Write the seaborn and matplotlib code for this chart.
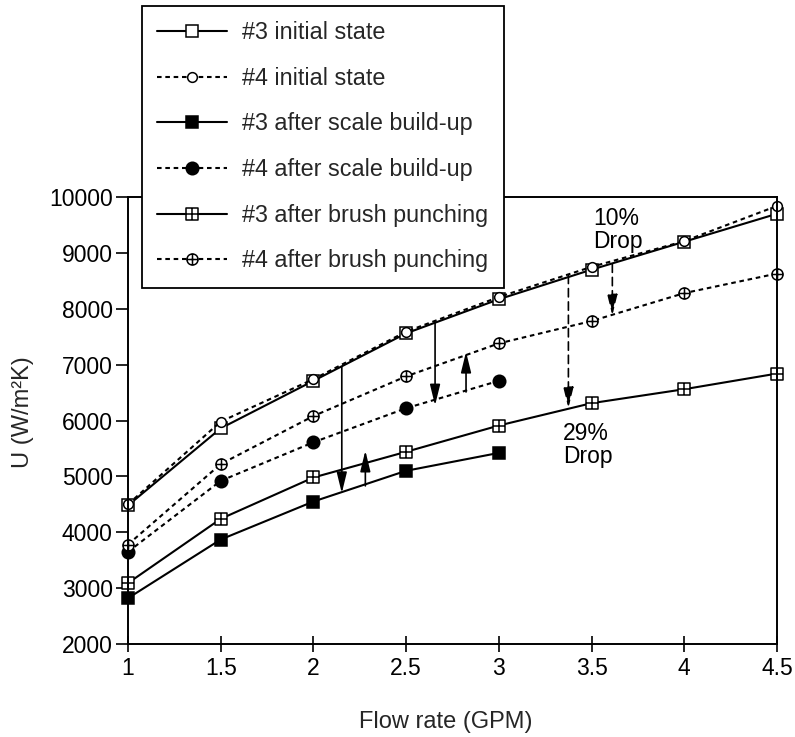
import matplotlib
matplotlib.use("Agg")
import matplotlib.pyplot as plt
from matplotlib.path import Path
import numpy as np
import pandas as pd
import seaborn as sns

# Flow rate (GPM) and overall heat-transfer coefficient U (W/m²K)
flow = [1, 1.5, 2, 2.5, 3, 3.5, 4, 4.5]
flow_scaled = [1, 1.5, 2, 2.5, 3]

u3_initial = [4480, 5860, 6710, 7560, 8170, 8700, 9200, 9700]
u4_initial = [4500, 5980, 6740, 7590, 8210, 8750, 9210, 9840]
u3_scale = [2820, 3870, 4550, 5100, 5420]
u4_scale = [3650, 4920, 5610, 6220, 6710]
u3_brush = [3090, 4240, 4980, 5440, 5910, 6310, 6560, 6840]
u4_brush = [3780, 5220, 6080, 6790, 7380, 7780, 8280, 8630]

labels = ["#3 initial state", "#4 initial state",
          "#3 after scale build-up", "#4 after scale build-up",
          "#3 after brush punching", "#4 after brush punching"]

xticks = [1, 1.5, 2, 2.5, 3, 3.5, 4, 4.5]
xticklabels = ["1", "1.5", "2", "2.5", "3", "3.5", "4", "4.5"]
yticks = [2000, 3000, 4000, 5000, 6000, 7000, 8000, 9000, 10000]

# arrows: (x, y_from, y_to, dashed)
arrows = [(2.153, 6960, 4700, False),
          (2.28, 4830, 5460, False),
          (2.656, 7760, 6270, False),
          (2.823, 6510, 7230, False),
          (3.375, 8600, 6220, True),
          (3.612, 8800, 7880, True)]

notes = [(3.51, 9410, "10%\nDrop"), (3.346, 5560, "29%\nDrop")]

sns.set_theme(style="white")
plt.rcParams["font.family"] = ["Liberation Sans", "DejaVu Sans"]
FS = 16.5

# square with a cross inside, circle with a cross inside
sq_cross = Path.make_compound_path(
    Path([[-1, -1], [1, -1], [1, 1], [-1, 1], [-1, -1]],
         [Path.MOVETO, Path.LINETO, Path.LINETO, Path.LINETO, Path.CLOSEPOLY]),
    Path([[-1, 0], [1, 0]], [Path.MOVETO, Path.LINETO]),
    Path([[0, -1], [0, 1]], [Path.MOVETO, Path.LINETO]))
circ_cross = Path.make_compound_path(
    Path.unit_circle(),
    Path([[-1, 0], [1, 0]], [Path.MOVETO, Path.LINETO]),
    Path([[0, -1], [0, 1]], [Path.MOVETO, Path.LINETO]))

dotted = (0, (2.2, 1.8))

series = [
    (flow, u3_initial, "s", 8.5, "white", "-"),
    (flow, u4_initial, "o", 7.0, "white", dotted),
    (flow_scaled, u3_scale, "s", 8.0, "black", "-"),
    (flow_scaled, u4_scale, "o", 9.0, "black", dotted),
    (flow, u3_brush, sq_cross, 8.0, "white", "-"),
    (flow, u4_brush, circ_cross, 8.0, "white", dotted),
]

fig = plt.figure(figsize=(7.95, 7.37), dpi=100)
ax = fig.add_axes([128 / 795, 1 - 644 / 737, 649 / 795, 447 / 737])

for (xs, ys, mk, ms, fc, ls), lab in zip(series, labels):
    df = pd.DataFrame({"flow": xs, "U": ys})
    sns.lineplot(data=df, x="flow", y="U", ax=ax, color="black",
                 marker=mk, markersize=ms, markerfacecolor=fc,
                 markeredgecolor="black", markeredgewidth=1.1,
                 linestyle=ls, linewidth=1.5, label=lab, clip_on=False,
                 legend=False)

for x, y0, y1, dashed in arrows:
    ax.annotate("", xy=(x, y1), xytext=(x, y0),
                arrowprops=dict(arrowstyle="-|>,head_length=0.9,head_width=0.22",
                                mutation_scale=14, color="black", lw=1.2,
                                linestyle=(0, (5, 3)) if dashed else "-",
                                shrinkA=0, shrinkB=0))

for x, y, t in notes:
    ax.text(x, y, t, ha="left", va="center", fontsize=FS, linespacing=1.0,
            color="black")

ax.set_xlim(1, 4.5)
ax.set_ylim(2000, 10000)
ax.set_xticks(xticks)
ax.set_xticklabels(xticklabels)
ax.set_yticks(yticks)
ax.tick_params(axis="y", direction="out", length=9, width=1.2,
               labelsize=FS, pad=2, colors="black", left=True)
ax.tick_params(axis="x", direction="inout", length=11, width=1.2,
               labelsize=FS, pad=4, colors="black", bottom=True)
for s in ax.spines.values():
    s.set_visible(True)
    s.set_color("black")
    s.set_linewidth(1.4)

ax.set_xlabel("")
ax.set_ylabel("")
fig.text(446 / 795, 1 - 722 / 737, "Flow rate (GPM)", ha="center",
         va="center", fontsize=17)
fig.text(23 / 795, 1 - 412 / 737, "U (W/m²K)", ha="center", va="center",
         rotation=90, fontsize=17)

leg = ax.legend(loc="upper left", bbox_to_anchor=(142 / 795, 1 - 6 / 737),
                bbox_transform=fig.transFigure, borderaxespad=0,
                fontsize=16.8, frameon=True, fancybox=False, framealpha=1,
                handlelength=3.0, handletextpad=0.65, labelspacing=0.97,
                borderpad=0.65, numpoints=1)
leg.get_frame().set_edgecolor("black")
leg.get_frame().set_linewidth(1.3)
leg.set_zorder(10)

fig.savefig("out.png", dpi=100, facecolor="white")
